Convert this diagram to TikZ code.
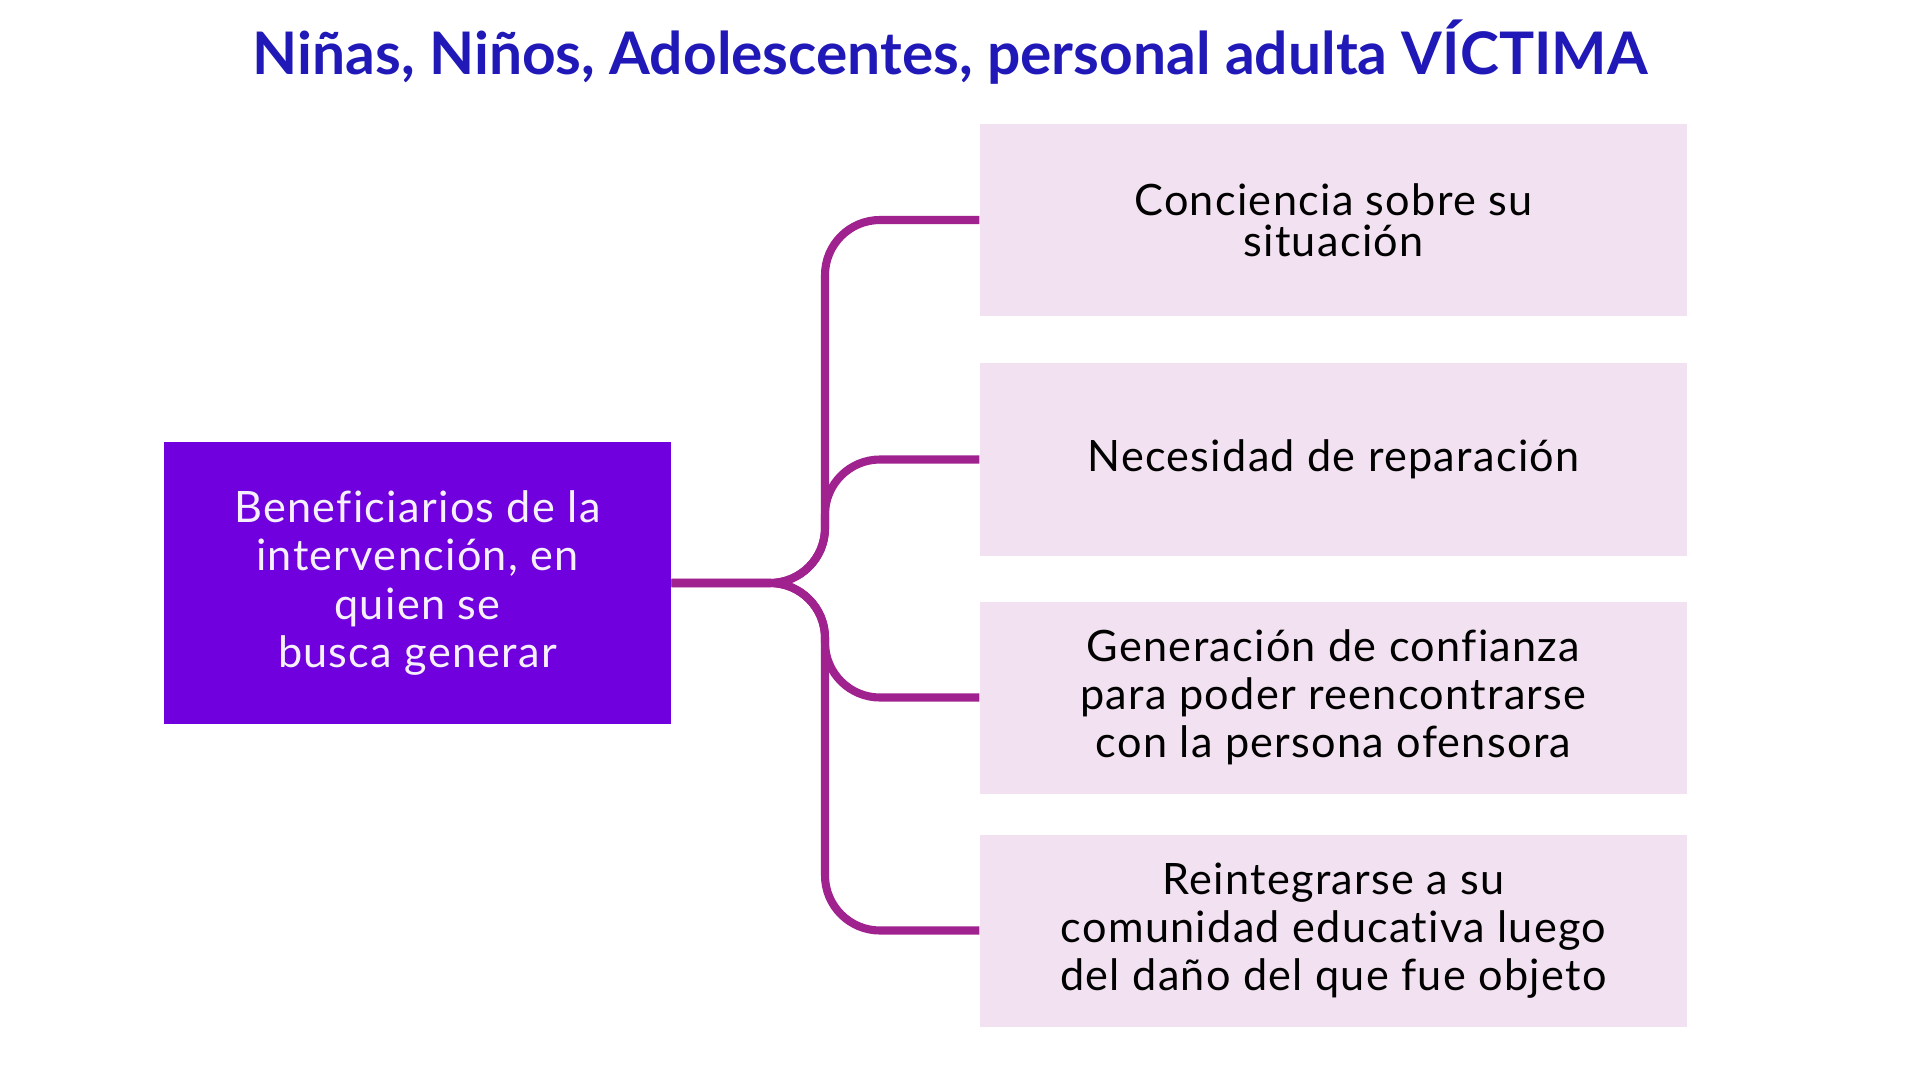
\documentclass[tikz,border=0pt]{standalone}
\usepackage{fontspec}
\setmainfont{Lato}[Ligatures=NoCommon]
\usepackage{tikz}
\usetikzlibrary{positioning}
\definecolor{titleblue}{HTML}{2019B8}
\definecolor{srcviolet}{HTML}{7000DD}
\definecolor{boxpink}{HTML}{F2E1F0}
\definecolor{branchmag}{HTML}{A0228F}
\newfontfamily\boxfont{Lato}[Ligatures=NoCommon, LetterSpace=3]
\newcommand{\boxtext}{\boxfont\fontsize{12.3}{13.7}\selectfont}

\begin{document}
\begin{tikzpicture}[
    src/.style={rectangle, fill=srcviolet, text=white!94!srcviolet, minimum width=5.07cm, minimum height=2.82cm, align=center, font=\boxtext},
    goal/.style={rectangle, fill=boxpink, text=black, minimum width=7.07cm, minimum height=1.92cm, align=center, font=\boxtext},
    branch/.style={draw=branchmag, line width=2.3pt, rounded corners=0.55cm}
  ]
      \useasboundingbox (0,0) rectangle (19.2,-10.8);
      \node (title) at (9.50,-0.52) {\fontsize{16.7}{19}\selectfont\bfseries\color{titleblue} Niñas, Niños, Adolescentes, personal adulta VÍCTIMA};
      \node[src] (ben) at (4.175,-5.83) {Beneficiarios de la\\ intervención, en\\ quien se\\ busca generar};
      \node[goal, font=\boxtext\fontsize{12.3}{11.7}\selectfont] (g1) at (13.335,-2.20) {Conciencia sobre su\\ situación};
      \node[goal] (g2) at (13.335,-4.595) {Necesidad de reparación};
      \node[goal] (g3) at (13.335,-6.975) {Generación de confianza\\ para poder reencontrarse\\ con la persona ofensora};
      \node[goal] (g4) at (13.335,-9.305) {Reintegrarse a su\\ comunidad educativa luego\\ del daño del que fue objeto};
      \coordinate (fork) at (8.25,-5.83);
      \foreach \g in {g1,g2,g3,g4}
        \draw[branch] (ben.east) -- (fork) |- (\g.west);
\end{tikzpicture}
\end{document}
